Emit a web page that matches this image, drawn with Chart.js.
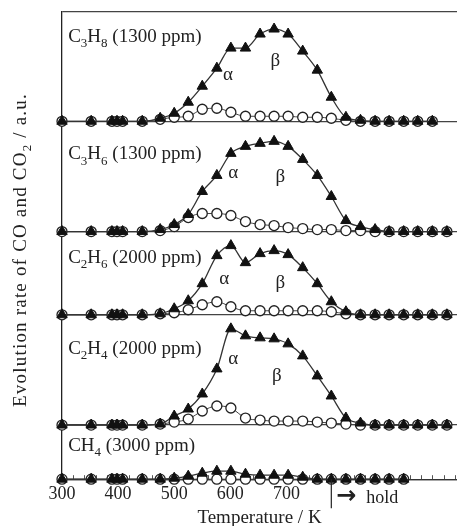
<!DOCTYPE html>
<html>
<head>
<meta charset="utf-8">
<script src="https://cdn.jsdelivr.net/npm/chart.js@4/dist/chart.umd.min.js"></script>
<style>
  html, body { margin: 0; padding: 0; background: #fff; }
  #wrap { width: 457px; height: 526px; }
</style>
</head>
<body>
<div id="wrap"><canvas id="myChart" width="457" height="526"></canvas></div>
<script>
// sampling temperatures (K); after holdTemp the oven holds, the axis just keeps running
var temps = [300, 352, 389, 398, 408, 443, 475, 500, 525, 550, 576, 601, 627, 653, 678, 703, 729, 755, 780, 806, 832, 858, 883, 909, 934, 960, 986];
var tickTemps = [300, 400, 500, 600, 700];
var holdTemp = 780;

var gasLabels = ['C_3H_8 (1300 ppm)', 'C_3H_6 (1300 ppm)', 'C_2H_6 (2000 ppm)', 'C_2H_4 (2000 ppm)', 'CH_4 (3000 ppm)'];

// evolution rate, a.u. (filled triangles / open circles)
var c3h8Filled = [0, 0, 0, 0, 0, 0, 0.3, 0.8, 1.9, 3.5, 5.3, 7.3, 7.3, 8.7, 9.2, 8.7, 7.0, 5.1, 2.4, 0.4, 0.1, 0, 0, 0, 0, 0];
var c3h8Open   = [0, 0, 0, 0, 0, 0, 0.2, 0.4, 0.5, 1.2, 1.3, 0.9, 0.5, 0.5, 0.5, 0.5, 0.4, 0.4, 0.3, 0.1, 0, 0, 0, 0, 0, 0];
var c3h6Filled = [0, 0, 0, 0, 0, 0, 0.2, 0.7, 1.7, 4.0, 5.6, 7.8, 8.5, 8.8, 9.0, 8.5, 7.2, 5.6, 3.5, 1.1, 0.5, 0.2, 0, 0, 0, 0, 0];
var c3h6Open   = [0, 0, 0, 0, 0, 0, 0.1, 0.5, 1.4, 1.8, 1.8, 1.6, 1.0, 0.7, 0.6, 0.4, 0.3, 0.2, 0.2, 0.1, 0.1, 0, 0, 0, 0, 0, 0];
var c2h6Filled = [0, 0, 0, 0, 0, 0, 0.1, 0.6, 1.4, 3.1, 5.9, 6.9, 5.2, 6.1, 6.4, 6.0, 4.7, 3.1, 1.3, 0.3, 0, 0, 0, 0, 0, 0, 0];
var c2h6Open   = [0, 0, 0, 0, 0, 0, 0.1, 0.2, 0.5, 1.0, 1.3, 0.8, 0.4, 0.4, 0.4, 0.4, 0.4, 0.4, 0.3, 0.1, 0, 0, 0, 0, 0, 0, 0];
var c2h4Filled = [0, 0, 0, 0, 0, 0, 0.1, 0.9, 1.6, 3.1, 5.6, 9.6, 8.9, 8.7, 8.6, 8.1, 6.9, 4.9, 2.9, 0.7, 0.2, 0, 0, 0, 0, 0, 0];
var c2h4Open   = [0, 0, 0, 0, 0, 0, 0.1, 0.3, 0.6, 1.4, 1.9, 1.7, 0.7, 0.5, 0.4, 0.4, 0.4, 0.3, 0.2, 0.1, 0, 0, 0, 0, 0, 0, 0];
var ch4Filled  = [0, 0, 0, 0, 0, 0, 0, 0.1, 0.3, 0.6, 0.8, 0.8, 0.5, 0.4, 0.4, 0.4, 0.2, 0, 0, 0, 0, 0, 0, 0];
var ch4Open    = [0, 0, 0, 0, 0, 0, 0, 0, 0, 0, 0, 0, 0, 0, 0, 0, 0, 0, 0, 0, 0, 0, 0, 0];

var SERIF = '"Liberation Serif", "Times New Roman", serif';

// one stacked y axis per gas, top to bottom
var panels = [
    { id: 'y1', label: gasLabels[0], filled: c3h8Filled, open: c3h8Open, max: 10.9, labelY: 7.9, alpha: [596, 4.6], beta: [680, 6.0] },
    { id: 'y2', label: gasLabels[1], filled: c3h6Filled, open: c3h6Open, max: 11.0, labelY: 7.2, alpha: [605, 5.8], beta: [689, 5.4] },
    { id: 'y3', label: gasLabels[2], filled: c2h6Filled, open: c2h6Open, max: 8.3, labelY: 5.2, alpha: [589, 3.6], beta: [689, 3.2] },
    { id: 'y4', label: gasLabels[3], filled: c2h4Filled, open: c2h4Open, max: 11.0, labelY: 7.1, alpha: [605, 6.6], beta: [683, 4.9] },
    { id: 'y5', label: gasLabels[4], filled: ch4Filled, open: ch4Open, max: 5.4, labelY: 2.8 }
];

function toPoints(vals) {
    return vals.map(function(v, i) { return { x: temps[i], y: v }; });
}

// draws "C_3H_8 ..." with the digit after _ as subscript, returns width
function drawRich(ctx, text, x, y, size, measureOnly) {
    var parts = text.split(/_(\d)/);
    var x0 = x;
    for (var i = 0; i < parts.length; i++) {
        var sub = i % 2 === 1;
        ctx.font = (sub ? Math.round(size * 0.68) : size) + 'px ' + SERIF;
        if (!measureOnly) ctx.fillText(parts[i], x, y + (sub ? size * 0.27 : 0));
        x += ctx.measureText(parts[i]).width;
    }
    return x - x0;
}

var datasets = [];
panels.forEach(function(p) {
    datasets.push({
        data: toPoints(p.filled),
        yAxisID: p.id,
        order: 1,
        borderColor: '#333',
        borderWidth: 1.3,
        cubicInterpolationMode: 'monotone',
        pointStyle: 'triangle',
        pointRadius: 6,
        pointBackgroundColor: '#111',
        pointBorderColor: '#111',
        pointBorderWidth: 1,
        clip: false
    });
    datasets.push({
        data: toPoints(p.open),
        yAxisID: p.id,
        order: 2,
        borderColor: '#444',
        borderWidth: 1,
        cubicInterpolationMode: 'monotone',
        pointStyle: 'circle',
        pointRadius: 5,
        pointBackgroundColor: '#fff',
        pointBorderColor: '#222',
        pointBorderWidth: 1.3,
        clip: false
    });
});

var scales = {
    x: {
        type: 'linear',
        min: 300,
        max: 1004,
        afterBuildTicks: function(axis) {
            axis.ticks = tickTemps.map(function(t) { return { value: t }; });
        },
        ticks: {
            font: { family: SERIF, size: 18 },
            color: '#222',
            padding: 4,
            maxRotation: 0
        },
        grid: { display: false, drawTicks: false },
        border: { display: true, color: '#333', width: 1.3 },
        title: {
            display: true,
            text: 'Temperature / K',
            font: { family: SERIF, size: 19, lineHeight: 0.8 },
            color: '#222',
            padding: { top: 2, bottom: 0 }
        }
    }
};

// stacked axes are laid out bottom-up in definition order, so add them reversed
panels.slice().reverse().forEach(function(p) {
    var isTop = p === panels[0];
    scales[p.id] = {
        type: 'linear',
        position: 'left',
        stack: 'panels',
        stackWeight: p.max,
        min: 0,
        max: p.max,
        afterBuildTicks: function(axis) {
            axis.ticks = isTop ? [{ value: 0 }, { value: p.max }] : [{ value: 0 }];
        },
        ticks: { display: false },
        grid: {
            drawTicks: false,
            color: '#444',
            lineWidth: 1.3
        },
        border: { display: true, color: '#222', width: 1.3 }
    };
});

var panelText = {
    id: 'panelText',
    afterDatasetsDraw: function(chart) {
        var ctx = chart.ctx;
        var xs = chart.scales.x;
        ctx.save();
        ctx.fillStyle = '#222';
        panels.forEach(function(p) {
            var ys = chart.scales[p.id];
            ctx.textAlign = 'left';
            ctx.textBaseline = 'alphabetic';
            drawRich(ctx, p.label, xs.getPixelForValue(311), ys.getPixelForValue(p.labelY), 19);
            ctx.font = '19px ' + SERIF;
            ctx.textAlign = 'center';
            ctx.textBaseline = 'middle';
            if (p.alpha) ctx.fillText('α', xs.getPixelForValue(p.alpha[0]), ys.getPixelForValue(p.alpha[1]));
            if (p.beta) ctx.fillText('β', xs.getPixelForValue(p.beta[0]), ys.getPixelForValue(p.beta[1]));
        });
        ctx.restore();
    }
};

var minorTicks = {
    id: 'minorTicks',
    beforeDatasetsDraw: function(chart) {
        var ctx = chart.ctx;
        var xs = chart.scales.x;
        var yb = chart.chartArea.bottom;
        ctx.save();
        ctx.strokeStyle = '#555';
        ctx.lineWidth = 1;
        for (var t = 320; t < 1004; t += 20) {
            var px = Math.round(xs.getPixelForValue(t)) + 0.5;
            ctx.beginPath();
            ctx.moveTo(px, yb);
            ctx.lineTo(px, yb - 4);
            ctx.stroke();
        }
        ctx.restore();
    }
};

var holdMark = {
    id: 'holdMark',
    afterDraw: function(chart) {
        var ctx = chart.ctx;
        var px = chart.scales.x.getPixelForValue(holdTemp);
        var yb = chart.chartArea.bottom;
        ctx.save();
        ctx.strokeStyle = '#222';
        ctx.lineWidth = 1.2;
        ctx.beginPath();
        ctx.moveTo(px, yb);
        ctx.lineTo(px, yb + 29);
        ctx.stroke();
        ctx.fillStyle = '#222';
        ctx.textBaseline = 'alphabetic';
        ctx.textAlign = 'left';
        ctx.font = 'bold 24px "DejaVu Sans"';
        ctx.fillText('→', px + 5, yb + 24);
        ctx.font = '18px ' + SERIF;
        ctx.fillText('hold', px + 35, yb + 24);

        // y axis title, rotated, with subscript 2
        var title = 'Evolution rate of CO and CO_2 / a.u.';
        ctx.letterSpacing = '1.2px';
        ctx.translate(25.5, 250);
        ctx.rotate(-Math.PI / 2);
        var tw = drawRich(ctx, title, 0, 0, 19, true);
        drawRich(ctx, title, -tw / 2, 0, 19);
        ctx.restore();
    }
};

var myChart = new Chart(document.getElementById('myChart').getContext('2d'), {
    type: 'line',
    data: { datasets: datasets },
    options: {
        responsive: false,
        animation: false,
        layout: { autoPadding: false, padding: { left: 62, right: 0, top: 12, bottom: 0 } },
        plugins: {
            legend: { display: false },
            tooltip: { enabled: false }
        },
        scales: scales
    },
    plugins: [panelText, minorTicks, holdMark]
});
</script>
</body>
</html>
